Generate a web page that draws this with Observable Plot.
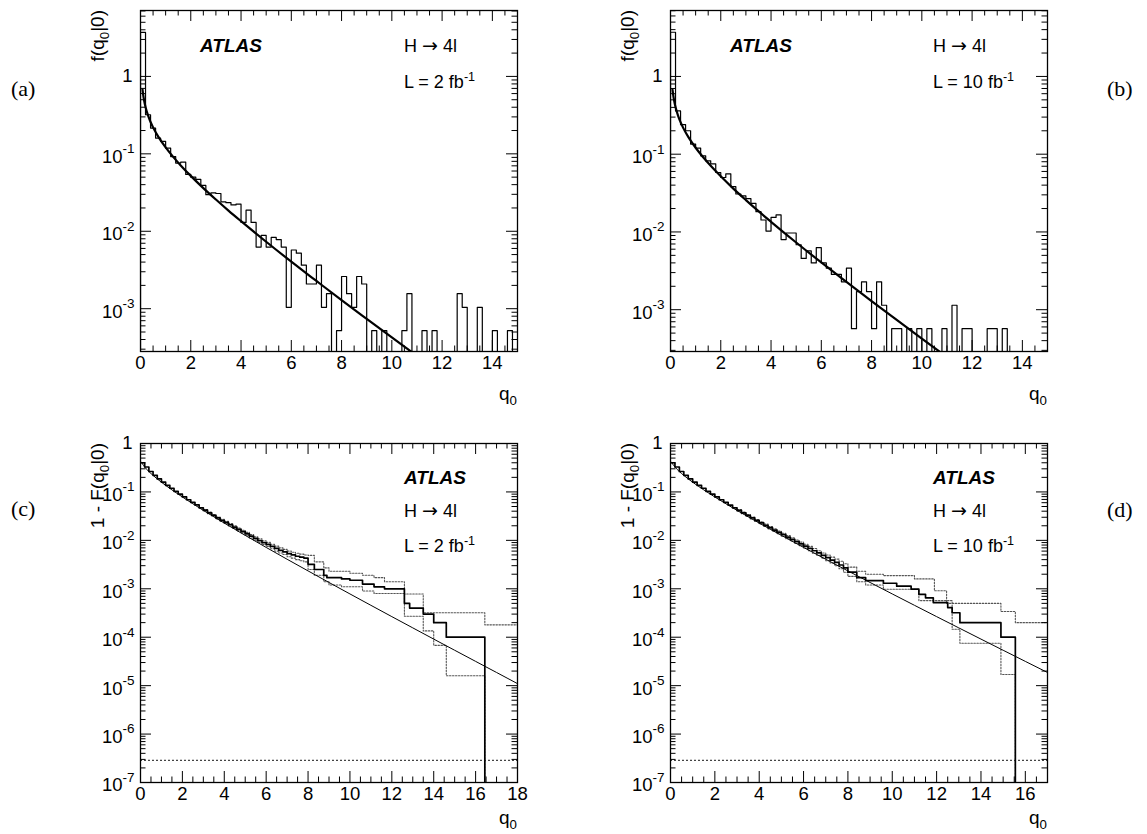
<!DOCTYPE html>
<html><head><meta charset="utf-8">
<script src="https://cdn.jsdelivr.net/npm/d3@7"></script>
<script src="https://cdn.jsdelivr.net/npm/@observablehq/plot@0.6"></script>
<style>
body{margin:0;background:#fff;}
#root{position:relative;width:1147px;height:834px;overflow:hidden;background:#fff;}
#root svg{position:absolute;}
</style></head><body><div id="root"></div><script>
// ---------------- DATA ----------------
const binWidth = 0.2;
// (a) L = 2 fb-1 : toy counts per q0 bin (0..15, width 0.2)
const countsA = [7104, 614, 413, 307, 278, 227, 177, 146, 150, 104,
  96, 90, 75, 57, 60, 59, 46, 45, 42, 43,
  25, 36, 25, 12, 17, 12, 16, 15, 12, 2,
  11, 10, 7, 4, 4, 7, 2, 3, 0, 1,
  5, 3, 2, 5, 4, 0, 1, 0, 1, 0,
  0, 0, 1, 3, 0, 0, 1, 0, 1, 0,
  0, 0, 0, 3, 2, 0, 0, 2, 0, 0,
  1, 0, 0, 1, 0];
const normA = 1920;   // entries x bin width
// (b) L = 10 fb-1
const countsB = [6490, 631, 421, 351, 237, 210, 167, 144, 132, 102,
  88, 98, 67, 54, 51, 47, 41, 32, 25, 18,
  27, 29, 14, 17, 17, 12, 8, 10, 7, 11,
  7, 6, 5, 5, 4, 6, 1, 3, 4, 3,
  1, 4, 2, 0, 1, 1, 0, 1, 0, 1,
  0, 1, 0, 0, 1, 0, 2, 0, 1, 1,
  0, 0, 0, 1, 1, 0, 1, 0, 0, 0,
  0, 0, 0, 0, 0];
const normB = 1754;
// asymptotic f(q0|0) curve
const pdfQ = [0.08, 0.1, 0.15, 0.2, 0.3, 0.4, 0.5, 0.7, 1.0, 1.3, 1.6, 2.0, 2.5, 3.0, 3.5, 4.0, 5, 6, 7, 8, 9, 10, 11, 12];
const pdfF = [0.678, 0.600, 0.478, 0.404, 0.3135, 0.258, 0.2197, 0.168, 0.121, 0.0913, 0.0709, 0.0519, 0.0361, 0.0257, 0.0185, 0.0135, 0.00732, 0.00405, 0.00228, 0.00129, 0.000739, 0.000425, 0.000246, 0.000143];
// asymptotic 1 - F(q0|0) curve
const cdfQ = [0.05, 0.1, 0.2, 0.3, 0.5, 0.75, 1, 1.5, 2, 2.5, 3, 3.5, 4, 4.5, 5, 6, 7, 8, 9, 10, 11, 12, 13, 14, 15, 16, 17, 18];
const cdfF = [0.4115, 0.3759, 0.3274, 0.2919, 0.2398, 0.1932, 0.1587, 0.1103, 0.0786, 0.0569, 0.0416, 0.0307, 0.02275, 0.01695, 0.01267, 0.00715, 0.00407, 0.00234, 0.00135, 7.83e-4, 4.56e-4, 2.66e-4, 1.56e-4, 9.14e-5, 5.38e-5, 3.17e-5, 1.87e-5, 1.10e-5];
// (c) toy 1-F steps (q at change, value after)
const cQ = [0,0.2,0.4,0.6,0.8,1.0,1.2,1.4,1.6,1.8,2.0,2.2,2.4,2.6,2.8,3.0,3.2,3.4,3.6,3.8,4.0,4.2,4.4,4.6,4.8,5.0,5.2,5.4,5.6,5.8,6.0,6.2,6.4,6.6,6.8,7.0,7.2,7.4,7.6,7.8,
  8.0, 8.3, 8.75, 8.9, 9.6, 10.0, 10.6, 11.15, 11.65, 12.6, 12.85, 13.5, 14.0, 14.6, 16.44];
const cMC = [0.400,0.327,0.264,0.220,0.186,0.159,0.137,0.119,0.103,0.090,0.079,0.069,0.061,0.054,0.047,0.042,0.037,0.033,0.029,0.026,0.0235,0.0210,0.0188,0.0168,0.0152,0.0136,0.0122,0.0110,0.0099,0.0090,0.0083,0.0075,0.0068,0.0062,0.0058,0.0053,0.0050,0.0047,0.0045,0.0043,
  0.0032, 0.0025, 0.0019, 0.0017, 0.0016, 0.0015, 0.00125, 0.0011, 0.0010, 0.0005, 0.0004, 0.0003, 0.0002, 0.0001, 0];
const cBandQ = [3.0,3.2,3.4,3.6,3.8,4.0,4.2,4.4,4.6,4.8,5.0,5.2,5.4,5.6,5.8,6.0,6.2,6.4,6.6,6.8,7.0,7.2,7.4,7.6,7.8];
const cUpQ = cBandQ.concat([8.0, 8.3, 8.75, 9.0, 10.0, 10.6, 11.15, 11.65, 12.6, 13.5, 16.44, 18]);
const cUp = [0.0435,0.0386,0.0343,0.0303,0.0273,0.0247,0.0222,0.0199,0.0179,0.0162,0.0146,0.0132,0.0119,0.0108,0.0098,0.0091,0.0083,0.0076,0.0070,0.0065,0.0060,0.0057,0.0054,0.0052,0.0050,
  0.0049, 0.0036, 0.0027, 0.0023, 0.0021, 0.0019, 0.0017, 0.0014, 0.00078, 0.00032, 0.00018, 0.00018];
const cLoQ = cBandQ.concat([8.0, 8.3, 8.75, 9.0, 9.6, 10.6, 11.15, 12.6, 13.5, 14.0, 14.6, 16.44]);
const cLo = [0.0405,0.0355,0.0317,0.0277,0.0247,0.0223,0.0198,0.0177,0.0157,0.0142,0.0126,0.0112,0.0101,0.0090,0.0082,0.0075,0.0067,0.0060,0.0055,0.0051,0.0046,0.0043,0.0040,0.0038,0.0036,
  0.0025, 0.0019, 0.0014, 0.0012, 0.0011, 0.0009, 0.0008, 0.00027, 0.000135, 0.000068, 0.000016, 0];
// (d) toy 1-F steps
const dQ = [0,0.2,0.4,0.6,0.8,1.0,1.2,1.4,1.6,1.8,2.0,2.2,2.4,2.6,2.8,3.0,3.2,3.4,3.6,3.8,4.0,4.2,4.4,4.6,4.8,5.0,5.2,5.4,5.6,5.8,6.0,6.2,6.4,6.6,6.8,7.0,7.2,7.4,7.6,7.8,
  8.0, 8.4, 8.8, 9.6, 10.2, 10.85, 11.2, 11.5, 11.85, 12.5, 12.7, 13.05, 14.9, 15.55];
const dMC = [0.400,0.327,0.264,0.220,0.186,0.159,0.137,0.119,0.103,0.090,0.079,0.069,0.061,0.0535,0.047,0.0417,0.0369,0.0327,0.0290,0.0258,0.0230,0.0205,0.0183,0.0163,0.0146,0.0131,0.0117,0.0105,0.0094,0.0085,0.0076,0.0068,0.0061,0.0055,0.0049,0.0044,0.0039,0.0035,0.0031,0.0027,
  0.0022, 0.0017, 0.00148, 0.0013, 0.00113, 0.00098, 0.00077, 0.00065, 0.00052, 0.00041, 0.00032, 0.0002, 0.0001, 0];
const dUpQ = cBandQ.concat([8.0, 8.4, 8.8, 9.6, 11.0, 11.9, 12.45, 14.9, 15.55, 17]);
const dUp = [0.0432,0.0384,0.0341,0.0303,0.0270,0.0242,0.0216,0.0193,0.0173,0.0155,0.0140,0.0126,0.0113,0.0102,0.0092,0.0083,0.0075,0.0068,0.0061,0.0055,0.0050,0.0045,0.0041,0.0037,0.0033,
  0.0028, 0.0023, 0.0020, 0.00187, 0.0016, 0.00091, 0.0005, 0.00034, 0.0002, 0.0002];
const dLoQ = cBandQ.concat([8.0, 8.4, 8.8, 9.6, 11.2, 12.7, 13.05, 14.9, 15.55]);
const dLo = [0.0402,0.0354,0.0313,0.0277,0.0246,0.0218,0.0194,0.0173,0.0153,0.0137,0.0122,0.0108,0.0097,0.0086,0.0078,0.0069,0.0061,0.0054,0.0049,0.0043,0.0038,0.0034,0.0030,0.0026,0.0022,
  0.0018, 0.0014, 0.0012, 0.00098, 0.00057, 0.000146, 0.000075, 0.000017, 0];
const fiveSigma = 2.87e-7;
// axes
const xTicksA = [0, 2, 4, 6, 8, 10, 12, 14];
const xTicksC = [0, 2, 4, 6, 8, 10, 12, 14, 16, 18];
const xTicksD = [0, 2, 4, 6, 8, 10, 12, 14, 16];
const yTicksAB = [1e-3, 1e-2, 1e-1, 1];
const yTicksCD = [1e-7, 1e-6, 1e-5, 1e-4, 1e-3, 1e-2, 1e-1, 1];
const yTitles = ["f(q|0)", "1 - F(q|0)"];
const lumis = ["2", "10", "2", "10"];
const tags = ["(a)", "(b)", "(c)", "(d)"];

// ---------------- DRAW ----------------
const FLOOR = 1e-12;
const root = document.getElementById("root");
const SANS = "'Liberation Sans', Arial, Helvetica, sans-serif";

function histPoints(counts, norm, qmax){
  const pts = [{q: 0, v: FLOOR}];
  counts.forEach((c, i) => pts.push({q: i * binWidth, v: c > 0 ? c / norm : FLOOR}));
  const last = counts[counts.length - 1];
  pts.push({q: qmax, v: last > 0 ? last / norm : FLOOR});
  pts.push({q: qmax, v: FLOOR});
  return pts;
}
function stepPoints(qs, vs){ return qs.map((q, i) => ({q, v: vs[i] > 0 ? vs[i] : FLOOR})); }
function curvePoints(qs, vs){ return qs.map((q, i) => ({q, v: vs[i]})); }

function panel(cfg){
  const {sx, sy, sw, sh, fl, ft, fr, fb, xDomain, yDomain, xMajor, yMajor, marks} = cfg;
  const fw = fr - fl, fh = fb - ft;
  const xMinor = d3.range(0, xDomain[1] + 1e-9, 0.5).filter(v => !xMajor.includes(v));
  const yMinor = [];
  for (let e = Math.floor(Math.log10(yDomain[0])); e <= Math.ceil(Math.log10(yDomain[1])); e++)
    for (let k = 2; k <= 9; k++) { const v = k * Math.pow(10, e); if (v > yDomain[0] && v < yDomain[1]) yMinor.push(v); }
  const maj = 11, min = 5.5;
  const ticks = [
    Plot.ruleX(xMajor, {x: d => d, insetTop: fh - maj, strokeWidth: 1}),
    Plot.ruleX(xMajor, {x: d => d, insetBottom: fh - maj, strokeWidth: 1}),
    Plot.ruleX(xMinor, {x: d => d, insetTop: fh - min, strokeWidth: 1}),
    Plot.ruleX(xMinor, {x: d => d, insetBottom: fh - min, strokeWidth: 1}),
    Plot.ruleY(yMajor, {y: d => d, insetRight: fw - maj, strokeWidth: 1}),
    Plot.ruleY(yMajor, {y: d => d, insetLeft: fw - maj, strokeWidth: 1}),
    Plot.ruleY(yMinor, {y: d => d, insetRight: fw - min, strokeWidth: 1}),
    Plot.ruleY(yMinor, {y: d => d, insetLeft: fw - min, strokeWidth: 1}),
    Plot.text(xMajor, {x: d => d, text: d => String(d), frameAnchor: "bottom", dy: 17, fontSize: 18.5}),
    Plot.text(yMajor.filter(d => d === 1), {y: d => d, text: () => "1", frameAnchor: "left", dx: -8, textAnchor: "end", fontSize: 18.5}),
    Plot.text(yMajor.filter(d => d !== 1), {y: d => d, text: () => "10", frameAnchor: "left", dx: -18, dy: 3, textAnchor: "end", fontSize: 18.5}),
    Plot.text(yMajor.filter(d => d !== 1), {y: d => d, text: d => String(Math.round(Math.log10(d))), frameAnchor: "left", dx: -18, dy: -5, textAnchor: "start", fontSize: 13.5}),
    Plot.frame({stroke: "black", strokeWidth: 1.3})
  ];
  const svg = Plot.plot({
    width: sw, height: sh,
    marginLeft: fl - sx, marginRight: sx + sw - fr, marginTop: ft - sy, marginBottom: sy + sh - fb,
    x: {domain: xDomain, axis: null},
    y: {type: "log", domain: yDomain, axis: null},
    style: {background: "none", fontFamily: SANS, fontSize: "18px", overflow: "visible", color: "black"},
    marks: [...marks, ...ticks]
  });
  svg.style.left = sx + "px"; svg.style.top = sy + "px";
  root.appendChild(svg);
}

const lineOpts = {x: "q", y: "v", clip: true, stroke: "black"};
// (a)
panel({sx: 0, sy: 0, sw: 560, sh: 420, fl: 140, ft: 10, fr: 517, fb: 351,
  xDomain: [0, 15], yDomain: [2.8e-4, 7.1], xMajor: xTicksA, yMajor: yTicksAB,
  marks: [
    Plot.line(histPoints(countsA, normA, 15), {...lineOpts, curve: "step-after", strokeWidth: 1.2}),
    Plot.line(curvePoints(pdfQ, pdfF), {...lineOpts, curve: "monotone-x", strokeWidth: 2.2})
  ]});
// (b)
panel({sx: 560, sy: 0, sw: 587, sh: 420, fl: 670, ft: 10, fr: 1047, fb: 351,
  xDomain: [0, 15], yDomain: [2.9e-4, 7.05], xMajor: xTicksA, yMajor: yTicksAB,
  marks: [
    Plot.line(histPoints(countsB, normB, 15), {...lineOpts, curve: "step-after", strokeWidth: 1.2}),
    Plot.line(curvePoints(pdfQ, pdfF), {...lineOpts, curve: "monotone-x", strokeWidth: 2.2})
  ]});
const dotted = {...lineOpts, curve: "step-after", stroke: "#555", strokeWidth: 1.1, strokeDasharray: "1.5,1.5"};
// (c)
panel({sx: 0, sy: 420, sw: 560, sh: 414, fl: 140, ft: 443, fr: 517, fb: 782,
  xDomain: [0, 18], yDomain: [1e-7, 1], xMajor: xTicksC, yMajor: yTicksCD,
  marks: [
    Plot.ruleY([fiveSigma], {stroke: "#444", strokeWidth: 1.1, strokeDasharray: "2,2"}),
    Plot.line(stepPoints(cUpQ, cUp), dotted),
    Plot.line(stepPoints(cLoQ, cLo), dotted),
    Plot.line(curvePoints(cdfQ, cdfF), {...lineOpts, curve: "monotone-x", strokeWidth: 1}),
    Plot.line(stepPoints(cQ, cMC), {...lineOpts, curve: "step-after", strokeWidth: 1.7})
  ]});
// (d)
panel({sx: 560, sy: 420, sw: 587, sh: 414, fl: 670, ft: 443, fr: 1047, fb: 782,
  xDomain: [0, 17], yDomain: [1e-7, 1], xMajor: xTicksD, yMajor: yTicksCD,
  marks: [
    Plot.ruleY([fiveSigma], {stroke: "#444", strokeWidth: 1.1, strokeDasharray: "2,2"}),
    Plot.line(stepPoints(dUpQ, dUp), dotted),
    Plot.line(stepPoints(dLoQ, dLo), dotted),
    Plot.line(curvePoints(cdfQ, cdfF), {...lineOpts, curve: "monotone-x", strokeWidth: 1}),
    Plot.line(stepPoints(dQ, dMC), {...lineOpts, curve: "step-after", strokeWidth: 1.7})
  ]});

// ---------------- TEXT OVERLAY ----------------
const ov = d3.select(root).append("svg").attr("width", 1147).attr("height", 834)
  .style("left", "0px").style("top", "0px").style("font-family", SANS);
// parts: [text, "n"|"sub"|"sup"]
function rich(sel, parts, size){
  let shift = 0;
  parts.forEach(([t, k]) => {
    const target = k === "sub" ? 5 : k === "sup" ? -7 : 0;
    sel.append("tspan").attr("dy", target - shift).attr("font-size", k === "n" ? size : size * 0.7).text(t);
    shift = target;
  });
}
const frames = [{l: 140, r: 517, t: 10, b: 351}, {l: 670, r: 1047, t: 10, b: 351}, {l: 140, r: 517, t: 443, b: 782}, {l: 670, r: 1047, t: 443, b: 782}];
const atlasPos = [[200, 52], [730, 52], [404, 484], [933, 484]];
const procPos = [[404, 52], [933, 52], [404, 517], [933, 517]];
const lumiPos = [[404, 88], [933, 88], [404, 552], [933, 552]];
const tagPos = [[11, 96], [1107, 96], [11, 516], [1107, 517]];
const xTitleDy = [49, 49, 42, 42];
frames.forEach((f, i) => {
  ov.append("text").attr("x", atlasPos[i][0]).attr("y", atlasPos[i][1]).attr("font-size", 19)
    .attr("font-weight", "bold").attr("font-style", "italic").text("ATLAS");
  const pr = ov.append("text").attr("x", procPos[i][0]).attr("y", procPos[i][1]).attr("font-size", 18);
  pr.append("tspan").text("H ");
  pr.append("tspan").attr("font-family", "'DejaVu Sans', sans-serif").attr("font-size", 19).text("\u2192");
  pr.append("tspan").text(" 4l");
  rich(ov.append("text").attr("x", lumiPos[i][0]).attr("y", lumiPos[i][1]).attr("font-size", 18),
    [["L = " + lumis[i] + " fb", "n"], ["-1", "sup"]], 18);
  ov.append("text").attr("x", tagPos[i][0]).attr("y", tagPos[i][1]).attr("font-size", 22)
    .attr("font-family", "'Liberation Serif', 'Times New Roman', serif").text(tags[i]);
  // y title (rotated, aligned to top of axis)
  const title = i < 2 ? yTitles[0] : yTitles[1];
  const [pre, post] = title.split("q");
  const tx = f.l - 36, ty = f.t;
  rich(ov.append("text").attr("transform", `translate(${tx},${ty}) rotate(-90)`).attr("text-anchor", "end").attr("font-size", 19),
    [[pre + "q", "n"], ["0", "sub"], [post, "n"]], 19);
  // x title
  rich(ov.append("text").attr("x", f.r).attr("y", f.b + xTitleDy[i]).attr("text-anchor", "end").attr("font-size", 19),
    [["q", "n"], ["0", "sub"]], 19);
});
</script></body></html>
